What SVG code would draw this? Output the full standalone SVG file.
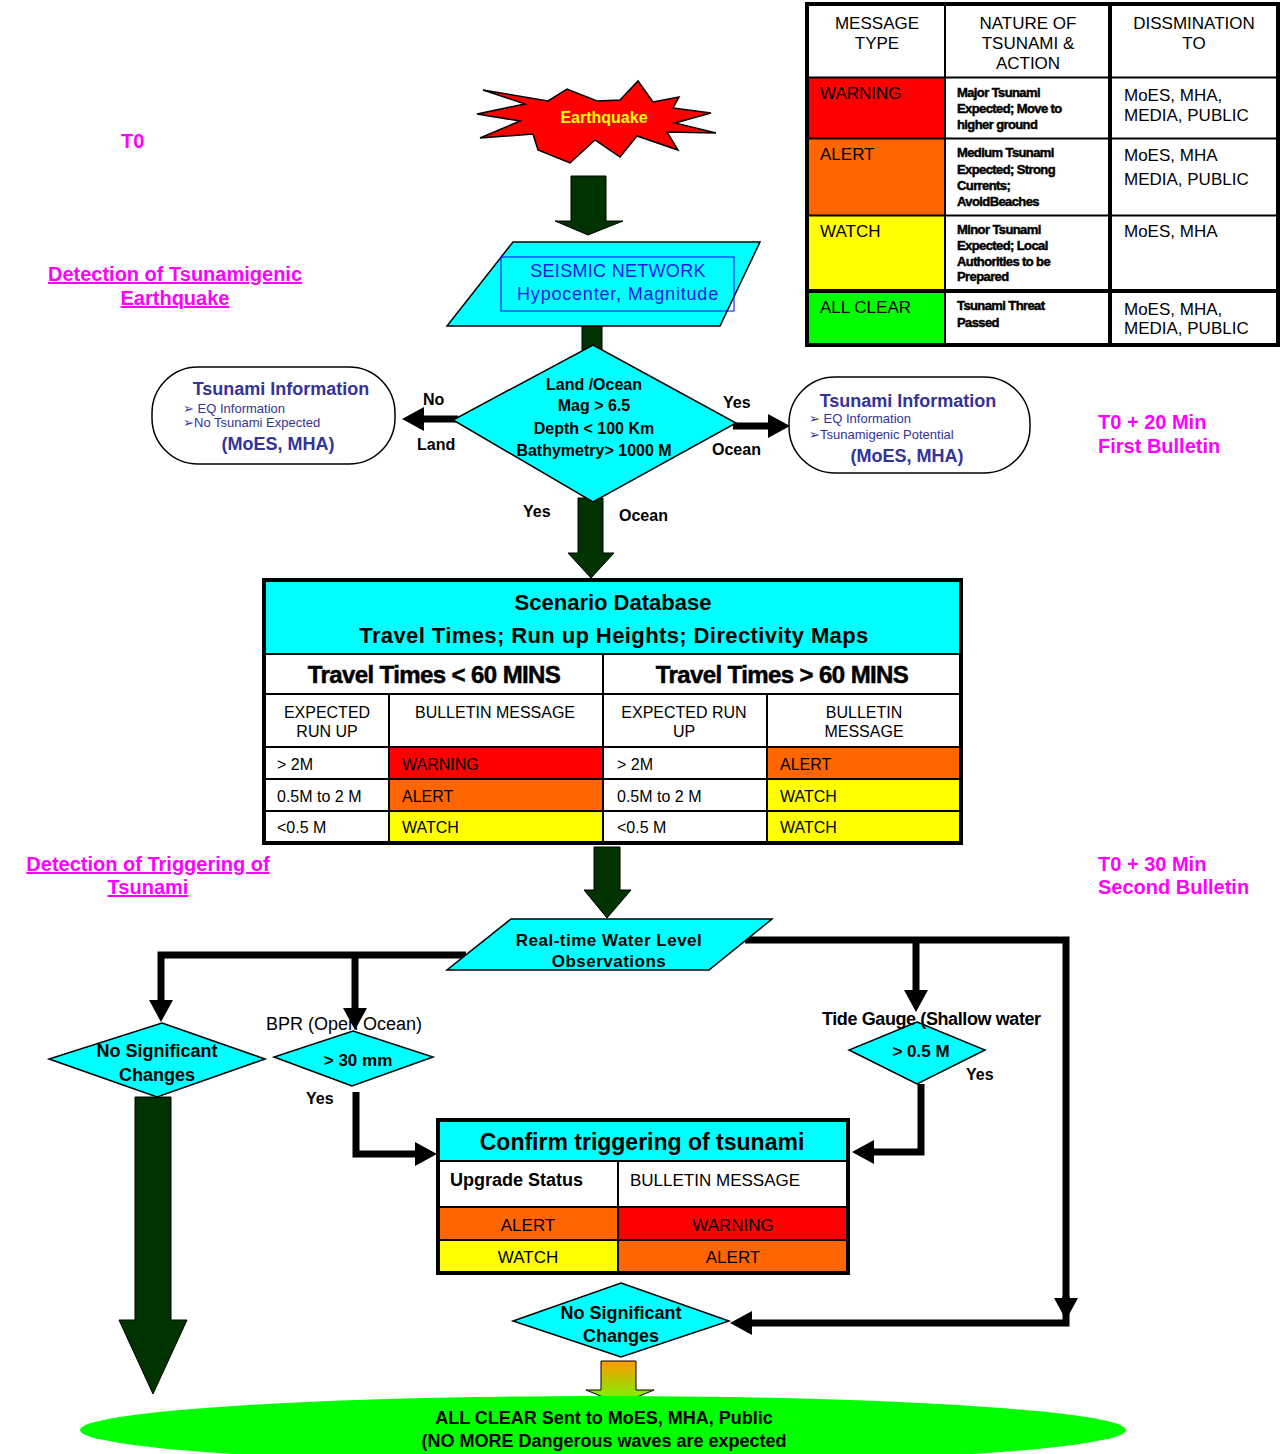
<svg xmlns="http://www.w3.org/2000/svg" width="1285" height="1454" viewBox="0 0 1285 1454">
<defs>
<style>
text{font-family:"Liberation Sans",Arial,sans-serif;fill:#000}
.b{font-weight:bold}
.c{text-anchor:middle}
.mag{fill:#ff00ff;font-weight:bold;font-size:20px}
.u{text-decoration:underline}
.t17{font-size:17px}
.t16{font-size:16px}
.nat{font-size:13px;font-weight:bold;letter-spacing:-0.6px;stroke:#000;stroke-width:0.45px}
.blue{fill:#333399}
.cy{fill:#00ffff;stroke:#000;stroke-width:1.5}
.dg{fill:#003300;stroke:#000;stroke-width:1}
.ln{fill:none;stroke:#000;stroke-width:7;stroke-linejoin:miter}
.thin{stroke:#000;stroke-width:2}
.red{fill:#ff0000}.org{fill:#ff6600}.yel{fill:#ffff00}.grn{fill:#00ff00}
</style>
<marker id="ah" markerUnits="userSpaceOnUse" markerWidth="22" markerHeight="24" viewBox="0 0 22 24" refX="0" refY="12" orient="auto">
<path d="M0,0 L22,12 L0,24 Z" fill="#000"/>
</marker>
<linearGradient id="gr" x1="0" y1="0" x2="0" y2="1">
<stop offset="0" stop-color="#ff9900"/>
<stop offset="1" stop-color="#66ff00"/>
</linearGradient>
</defs>
<rect width="1285" height="1454" fill="#fff"/>

<!-- Legend table -->
<g id="legend">
<rect x="809" y="78" width="136" height="60" class="red"/>
<rect x="809" y="139" width="136" height="76" class="org"/>
<rect x="809" y="216" width="136" height="75" class="yel"/>
<rect x="809" y="292" width="136" height="52" class="grn"/>
<rect x="807" y="4" width="471" height="341" fill="none" stroke="#000" stroke-width="4"/>
<line x1="807" y1="77.5" x2="1278" y2="77.5" class="thin"/>
<line x1="807" y1="138.5" x2="1278" y2="138.5" class="thin"/>
<line x1="807" y1="215.5" x2="1278" y2="215.5" class="thin"/>
<line x1="807" y1="291" x2="1278" y2="291" stroke="#000" stroke-width="4"/>
<line x1="945" y1="4" x2="945" y2="345" class="thin"/>
<line x1="1110" y1="4" x2="1110" y2="345" stroke="#000" stroke-width="4"/>
<text class="t17 c" x="877" y="29">MESSAGE</text>
<text class="t17 c" x="877" y="49">TYPE</text>
<text class="t17 c" x="1028" y="29">NATURE OF</text>
<text class="t17 c" x="1028" y="49">TSUNAMI &amp;</text>
<text class="t17 c" x="1028" y="69">ACTION</text>
<text class="t17 c" x="1194" y="29">DISSMINATION</text>
<text class="t17 c" x="1194" y="49">TO</text>
<text class="t17" x="820" y="99">WARNING</text>
<text class="nat" x="957" y="97">Major Tsunami</text>
<text class="nat" x="957" y="113">Expected; Move to</text>
<text class="nat" x="957" y="129">higher ground</text>
<text class="t17" x="1124" y="101">MoES, MHA,</text>
<text class="t17" x="1124" y="121">MEDIA, PUBLIC</text>
<text class="t17" x="820" y="160">ALERT</text>
<text class="nat" x="957" y="157">Medium Tsunami</text>
<text class="nat" x="957" y="174">Expected; Strong</text>
<text class="nat" x="957" y="190">Currents;</text>
<text class="nat" x="957" y="206">AvoidBeaches</text>
<text class="t17" x="1124" y="161">MoES, MHA</text>
<text class="t17" x="1124" y="185">MEDIA, PUBLIC</text>
<text class="t17" x="820" y="237">WATCH</text>
<text class="nat" x="957" y="234">Minor Tsunami</text>
<text class="nat" x="957" y="250">Expected; Local</text>
<text class="nat" x="957" y="266">Authorities to be</text>
<text class="nat" x="957" y="281">Prepared</text>
<text class="t17" x="1124" y="237">MoES, MHA</text>
<text class="t17" x="820" y="313">ALL CLEAR</text>
<text class="nat" x="957" y="310">Tsunami Threat</text>
<text class="nat" x="957" y="327">Passed</text>
<text class="t17" x="1124" y="315">MoES, MHA,</text>
<text class="t17" x="1124" y="334">MEDIA, PUBLIC</text>
</g>

<!-- Side labels -->
<g id="labels">
<text class="mag" x="121" y="148">T0</text>
<text class="mag c u" x="175" y="281">Detection of Tsunamigenic</text>
<text class="mag c u" x="175" y="305">Earthquake</text>
<text class="mag" x="1098" y="429">T0 + 20 Min</text>
<text class="mag" x="1098" y="453">First Bulletin</text>
<text class="mag c u" x="148" y="871">Detection of Triggering of</text>
<text class="mag c u" x="148" y="894">Tsunami</text>
<text class="mag" x="1098" y="871">T0 + 30 Min</text>
<text class="mag" x="1098" y="894">Second Bulletin</text>
</g>

<!-- Connectors -->
<g id="connectors">
<path class="dg" d="M571,176 H606 V221 H623 L588,235 L555,221 H571 Z"/>
<rect class="dg" x="582" y="324" width="20" height="26"/>
<path class="dg" d="M578,498 H603 V553 H614 L591,578 L568,553 H578 Z"/>
<path class="dg" d="M594,847 H620 V890 H631 L607,918 L584,890 H594 Z"/>
<path class="dg" d="M135,1097 H171 V1320 H187 L153,1394 L119,1320 H135 Z"/>
<path d="M601,1361 H636 V1390 H654 L620,1404 L586,1390 H601 Z" fill="url(#gr)" stroke="#000" stroke-width="1"/>
<path class="ln" d="M458,419 H424" marker-end="url(#ah)"/>
<path class="ln" d="M733,426 H768" marker-end="url(#ah)"/>
<path class="ln" d="M466,955 H161 V1000" marker-end="url(#ah)"/>
<path class="ln" d="M355,955 V1008" marker-end="url(#ah)"/>
<path class="ln" d="M745,940 H1066 V1298" marker-end="url(#ah)"/>
<path class="ln" d="M1066,1296 V1323 H752" marker-end="url(#ah)"/>
<path class="ln" d="M916,940 V990" marker-end="url(#ah)"/>
<path class="ln" d="M921,1084 V1152 H874" marker-end="url(#ah)"/>
<path class="ln" d="M356,1092 V1154 H415" marker-end="url(#ah)"/>
<text class="t16 b" x="423" y="405">No</text>
<text class="t16 b" x="417" y="450">Land</text>
<text class="t16 b" x="723" y="408">Yes</text>
<text class="t16 b" x="712" y="455">Ocean</text>
<text class="t16 b" x="523" y="517">Yes</text>
<text class="t16 b" x="619" y="521">Ocean</text>
<text class="t16 b" x="306" y="1104">Yes</text>
<text class="t16 b" x="966" y="1080">Yes</text>
</g>

<!-- Earthquake -->
<g id="earthquake">
<polygon points="483,90 525,104 477,114 520,121 480,138 533,134 538,150 570,163 595,140 620,157 637,136 678,150 667,132 716,133 675,123 711,113 673,108 679,97 653,102 638,81 620,100 597,101 567,89 548,101" fill="#ff0000" stroke="#000" stroke-width="1.5"/>
<text class="b c" x="604" y="123" font-size="16" style="fill:#ffff00">Earthquake</text>
</g>

<!-- Seismic network -->
<g id="seismic">
<polygon class="cy" points="513,242 760,242 720,326 447,326"/>
<rect x="501" y="257" width="233" height="54" fill="none" stroke="#0000ff" stroke-width="1"/>
<text class="c" x="618" y="277" font-size="18" letter-spacing="0.3" style="fill:#1a1ae6">SEISMIC NETWORK</text>
<text class="c" x="618" y="300" font-size="18" letter-spacing="0.8" style="fill:#1a1ae6">Hypocenter, Magnitude</text>
</g>

<!-- Decision diamond -->
<g id="decision">
<polygon class="cy" points="593,345 736,423 593,502 453,420"/>
<text class="t16 b c" x="594" y="390">Land /Ocean</text>
<text class="t16 b c" x="594" y="411">Mag &gt; 6.5</text>
<text class="t16 b c" x="594" y="434">Depth &lt; 100 Km</text>
<text class="t16 b c" x="594" y="456">Bathymetry&gt; 1000 M</text>
</g>

<!-- Info bubbles -->
<g id="info-land">
<rect x="152" y="367" width="243" height="97" rx="46" ry="46" fill="#fff" stroke="#000" stroke-width="1.5"/>
<text class="b c blue" x="281" y="395" font-size="18">Tsunami Information</text>
<text class="blue" x="183" y="413" font-size="13">➢ EQ  Information</text>
<text class="blue" x="183" y="427" font-size="13">➢No Tsunami Expected</text>
<text class="b c blue" x="278" y="450" font-size="18">(MoES, MHA)</text>
</g>
<g id="info-ocean">
<rect x="789" y="377" width="241" height="96" rx="46" ry="46" fill="#fff" stroke="#000" stroke-width="1.5"/>
<text class="b c blue" x="908" y="407" font-size="18">Tsunami Information</text>
<text class="blue" x="809" y="423" font-size="13">➢ EQ  Information</text>
<text class="blue" x="809" y="439" font-size="13">➢Tsunamigenic  Potential</text>
<text class="b c blue" x="907" y="462" font-size="18">(MoES, MHA)</text>
</g>

<!-- Scenario database -->
<g id="scenario">
<rect x="264" y="580" width="697" height="74" fill="#00ffff"/>
<rect x="390" y="748" width="213" height="31" class="red"/>
<rect x="390" y="779" width="213" height="32" class="org"/>
<rect x="390" y="811" width="213" height="32" class="yel"/>
<rect x="767" y="748" width="194" height="31" class="org"/>
<rect x="767" y="779" width="194" height="32" class="yel"/>
<rect x="767" y="811" width="194" height="32" class="yel"/>
<rect x="264" y="580" width="697" height="263" fill="none" stroke="#000" stroke-width="4"/>
<line x1="264" y1="654" x2="961" y2="654" class="thin"/>
<line x1="264" y1="694" x2="961" y2="694" class="thin"/>
<line x1="264" y1="747" x2="961" y2="747" class="thin"/>
<line x1="264" y1="779" x2="961" y2="779" class="thin"/>
<line x1="264" y1="811" x2="961" y2="811" class="thin"/>
<line x1="603" y1="654" x2="603" y2="843" class="thin"/>
<line x1="389" y1="694" x2="389" y2="843" class="thin"/>
<line x1="767" y1="694" x2="767" y2="843" class="thin"/>
<text class="b c" x="613" y="610" font-size="22">Scenario Database</text>
<text class="b c" x="614" y="643" font-size="22" letter-spacing="0.4">Travel Times; Run up Heights; Directivity Maps</text>
<text class="b c" x="434" y="683" font-size="24" letter-spacing="-0.6" style="stroke:#000;stroke-width:0.5px">Travel Times &lt; 60 MINS</text>
<text class="b c" x="782" y="683" font-size="24" letter-spacing="-0.6" style="stroke:#000;stroke-width:0.5px">Travel Times &gt; 60 MINS</text>
<text class="t16 c" x="327" y="718">EXPECTED</text>
<text class="t16 c" x="327" y="737">RUN UP</text>
<text class="t16 c" x="495" y="718">BULLETIN MESSAGE</text>
<text class="t16 c" x="684" y="718">EXPECTED RUN</text>
<text class="t16 c" x="684" y="737">UP</text>
<text class="t16 c" x="864" y="718">BULLETIN</text>
<text class="t16 c" x="864" y="737">MESSAGE</text>
<text class="t16" x="277" y="770">&gt; 2M</text>
<text class="t16" x="402" y="770">WARNING</text>
<text class="t16" x="617" y="770">&gt; 2M</text>
<text class="t16" x="780" y="770">ALERT</text>
<text class="t16" x="277" y="802">0.5M to 2 M</text>
<text class="t16" x="402" y="802">ALERT</text>
<text class="t16" x="617" y="802">0.5M to 2 M</text>
<text class="t16" x="780" y="802">WATCH</text>
<text class="t16" x="277" y="833">&lt;0.5 M</text>
<text class="t16" x="402" y="833">WATCH</text>
<text class="t16" x="617" y="833">&lt;0.5 M</text>
<text class="t16" x="780" y="833">WATCH</text>
</g>

<!-- Real-time water level -->
<g id="realtime">
<polygon class="cy" points="511,919 772,919 709,970 447,970"/>
<text class="b c" x="609" y="946" font-size="17" letter-spacing="0.5">Real-time Water Level</text>
<text class="b c" x="609" y="967" font-size="17" letter-spacing="0.5">Observations</text>
</g>

<!-- No significant changes (left) -->
<g id="nochange-left">
<polygon class="cy" points="162,1023 265,1059 157,1097 49,1059"/>
<text class="b c" x="157" y="1057" font-size="18">No Significant</text>
<text class="b c" x="157" y="1081" font-size="18">Changes</text>
</g>

<!-- BPR -->
<g id="bpr">
<text x="266" y="1030" font-size="18">BPR (Open Ocean)</text>
<polygon class="cy" points="353,1031 433,1057 352,1086 274,1057"/>
<text class="b c" x="358" y="1066" font-size="17">&gt; 30 mm</text>
</g>

<!-- Tide gauge -->
<g id="tide">
<polygon class="cy" points="917,1022 985,1050 917,1084 849,1050"/>
<text class="b" x="822" y="1025" font-size="18" letter-spacing="-0.4">Tide Gauge (Shallow water</text>
<text class="b c" x="921" y="1057" font-size="17">&gt; 0.5 M</text>
</g>

<!-- Confirm triggering -->
<g id="confirm">
<rect x="438" y="1120" width="410" height="41" fill="#00ffff"/>
<rect x="438" y="1207" width="180" height="33" class="org"/>
<rect x="618" y="1207" width="230" height="33" class="red"/>
<rect x="438" y="1240" width="180" height="33" class="yel"/>
<rect x="618" y="1240" width="230" height="33" class="org"/>
<rect x="438" y="1120" width="410" height="153" fill="none" stroke="#000" stroke-width="4"/>
<line x1="438" y1="1161" x2="848" y2="1161" class="thin"/>
<line x1="438" y1="1207" x2="848" y2="1207" class="thin"/>
<line x1="438" y1="1240" x2="848" y2="1240" class="thin"/>
<line x1="618" y1="1161" x2="618" y2="1273" class="thin"/>
<text class="b c" x="642" y="1150" font-size="23">Confirm triggering of tsunami</text>
<text class="b" x="450" y="1186" font-size="18">Upgrade Status</text>
<text class="t17" x="630" y="1186">BULLETIN MESSAGE</text>
<text class="t17 c" x="528" y="1231">ALERT</text>
<text class="t17 c" x="733" y="1231">WARNING</text>
<text class="t17 c" x="528" y="1263">WATCH</text>
<text class="t17 c" x="733" y="1263">ALERT</text>
</g>

<!-- No significant changes (bottom) -->
<g id="nochange-bottom">
<polygon class="cy" points="621,1283 729,1321 621,1357 513,1321"/>
<text class="b c" x="621" y="1319" font-size="18">No Significant</text>
<text class="b c" x="621" y="1342" font-size="18">Changes</text>
</g>

<!-- All clear -->
<g id="allclear">
<ellipse cx="603" cy="1430" rx="523" ry="34" fill="#00ff00"/>
<text class="b c" x="604" y="1424" font-size="18">ALL CLEAR Sent to MoES, MHA, Public</text>
<text class="b c" x="604" y="1447" font-size="18">(NO MORE Dangerous waves are expected</text>
</g>
</svg>
